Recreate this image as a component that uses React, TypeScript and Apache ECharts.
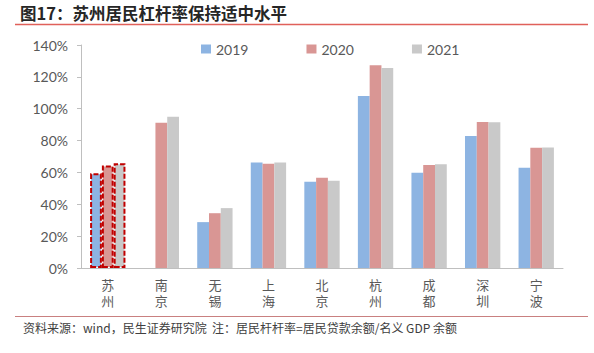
import React, { useEffect, useRef } from "react";
import * as echarts from "echarts";

const cities = ["苏州", "南京", "无锡", "上海", "北京", "杭州", "成都", "深圳", "宁波"];
const v2019: (number | null)[] = [59.5, null, 28.8, 66.3, 54.2, 108, 59.8, 82.9, 63];
const v2020: number[] = [64.3, 91.2, 34.4, 65.5, 56.6, 127.3, 64.7, 91.7, 75.5];
const v2021: number[] = [65.8, 95, 37.6, 66.2, 54.8, 125.5, 65.1, 91.5, 75.7];
const seriesNames = ["2019", "2020", "2021"];
const colors = ["#8DB4E2", "#D99694", "#C9C9C9"];
const yTicks = [0, 20, 40, 60, 80, 100, 120, 140];

const title = "图17：苏州居民杠杆率保持适中水平";
const source = "资料来源：wind，民生证券研究院  注：居民杆杆率=居民贷款余额/名义 GDP 余额";

const FONT = "Lato, 'Noto Sans CJK SC', sans-serif";

export default function App() {
  const ref = useRef<HTMLDivElement>(null);
  useEffect(() => {
    if (!ref.current) return;
    const chart = echarts.init(ref.current, undefined, { renderer: "svg" });
    const highlight = {
      borderColor: "#C00000",
      borderWidth: 2,
      borderType: [5, 2] as any,
    };
    const mk = (vals: (number | null)[], i: number) => ({
      name: seriesNames[i],
      type: "bar",
      barGap: "0%",
      barCategoryGap: "34%",
      itemStyle: { color: colors[i] },
      data: vals.map((v, j) =>
        j === 0 && v != null
          ? { value: v, itemStyle: { color: colors[i], ...highlight } }
          : v == null
          ? "-"
          : v
      ),
    });
    chart.setOption({
      animation: false,
      textStyle: { fontFamily: FONT },
      grid: { left: 81, right: 31, top: 45, bottom: 85 },
      legend: {
        top: 37,
        left: 196,
        itemWidth: 10,
        itemHeight: 9,
        itemGap: 58,
        icon: "rect",
        textStyle: { fontSize: 14, color: "#595959", fontFamily: FONT },
        data: seriesNames,
      },
      xAxis: {
        type: "category",
        data: cities,
        axisLine: { lineStyle: { color: "#BFBFBF" } },
        axisTick: { length: 4, lineStyle: { color: "#BFBFBF" } },
        axisLabel: {
          color: "#595959",
          fontSize: 13,
          lineHeight: 16,
          margin: 8,
          fontFamily: "'Noto Sans CJK SC', sans-serif",
          formatter: (v: string) => v.split("").join("\n"),
        },
      },
      yAxis: {
        type: "value",
        min: yTicks[0],
        max: yTicks[yTicks.length - 1],
        interval: 20,
        splitLine: { show: false },
        axisLine: { show: true, lineStyle: { color: "#BFBFBF" } },
        axisTick: { show: true, length: 4, lineStyle: { color: "#BFBFBF" } },
        axisLabel: {
          color: "#595959",
          fontSize: 14,
          margin: 13,
          formatter: (v: number) => v + "%",
        },
      },
      series: [mk(v2019, 0), mk(v2020, 1), mk(v2021, 2)],
      graphic: [
        {
          type: "text",
          left: 20,
          top: 5,
          style: {
            text: title,
            fontSize: 16.5,
            fontWeight: "bold",
            fill: "#262626",
            fontFamily: "'Noto Sans CJK SC', sans-serif",
          },
        },
        {
          type: "line",
          shape: { x1: 15, y1: 24.5, x2: 588, y2: 24.5 },
          style: { stroke: "#E0605A", lineWidth: 1.5 },
        },
        {
          type: "line",
          shape: { x1: 15, y1: 316.5, x2: 588, y2: 316.5 },
          style: { stroke: "#C98080", lineWidth: 1.2 },
        },
        {
          type: "text",
          left: 23,
          top: 321,
          style: {
            text: source,
            fontSize: 12,
            fill: "#404040",
            fontFamily: "'Noto Sans CJK SC', sans-serif",
          },
        },
      ],
    });
    return () => chart.dispose();
  }, []);
  return <div ref={ref} style={{ width: 594, height: 353, position: "absolute", left: 0, top: 0 }} />;
}
